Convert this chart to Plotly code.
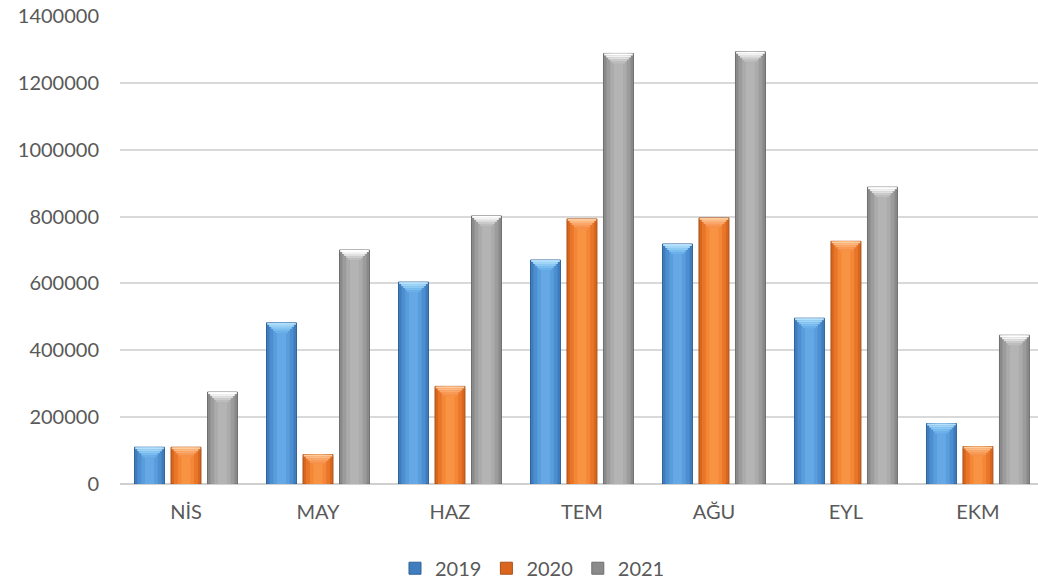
import plotly.graph_objects as go

# Monthly totals per year
months = ["NİS", "MAY", "HAZ", "TEM", "AĞU", "EYL", "EKM"]
years = ["2019", "2020", "2021"]
values_2019 = [110000, 482000, 604000, 670000, 718000, 496000, 181000]
values_2020 = [110000, 88000, 292000, 793000, 796000, 726000, 112000]
values_2021 = [275000, 700000, 802000, 1288000, 1293000, 888000, 445000]
y_ticks = [0, 200000, 400000, 600000, 800000, 1000000, 1200000, 1400000]

series = [values_2019, values_2020, values_2021]
# body shades: darker bevelled edges, lighter toward the middle
palettes = [
    ["#3F7DBF", "#4C8ED0", "#5A9DDD", "#66A8E6"],
    ["#D9661C", "#E8762A", "#F38736", "#F89343"],
    ["#8A8A8A", "#9C9C9C", "#ABABAB", "#B4B4B4"],
]
edge_colors = ["#2F6296", "#A9511B", "#6E6E6E"]
# bevelled top cap shades, from the top edge downwards
cap_palettes = [
    ["#B4E0FB", "#A0D5F8", "#8CC9F3", "#7ABDEE", "#6BB1E9"],
    ["#FDCB9C", "#FCB983", "#FAA86C", "#F89A58", "#F68F48"],
    ["#FFFFFF", "#F2F2F2", "#E0E0E0", "#CCCCCC", "#BDBDBD"],
]

bar_w = 0.227
pitch = 0.2765
layer_frac = [1.0, 0.8, 0.55, 0.3]
cap_frac = [1.0, 0.86, 0.72, 0.58, 0.45]
cap_step = 6000  # height of each cap band in data units

fig = go.Figure()
for i, (name, vals) in enumerate(zip(years, series)):
    center = (i - 1) * pitch
    for k, frac in enumerate(layer_frac):
        w = bar_w * frac
        fig.add_trace(go.Bar(
            x=months,
            y=vals,
            name=name,
            legendgroup=name,
            showlegend=(k == 0),
            width=w,
            offset=center - w / 2,
            marker=dict(
                color=palettes[i][k],
                line=dict(color=edge_colors[i] if k == 0 else palettes[i][k],
                          width=1 if k == 0 else 0),
            ),
            hoverinfo="skip" if k else None,
        ))
    for j, frac in enumerate(cap_frac):
        w = (bar_w - 0.01) * frac
        fig.add_trace(go.Bar(
            x=months,
            y=[cap_step] * len(vals),
            base=[v - (j + 1) * cap_step for v in vals],
            legendgroup=name,
            showlegend=False,
            width=w,
            offset=center - w / 2,
            marker=dict(color=cap_palettes[i][j], line=dict(width=0)),
            hoverinfo="skip",
        ))

font_family = "Lato, 'Open Sans', sans-serif"
fig.update_layout(
    width=1038,
    height=581,
    margin=dict(l=120, r=0, t=16, b=97),
    paper_bgcolor="white",
    plot_bgcolor="white",
    barmode="overlay",
    font=dict(family=font_family, size=20, color="#595959"),
    legend=dict(
        orientation="h",
        xref="container", yref="container",
        x=0.513, xanchor="center",
        y=0.022, yanchor="middle",
        font=dict(size=20, color="#595959"),
        itemwidth=30,
        tracegroupgap=0,
    ),
    showlegend=True,
)
fig.update_xaxes(
    type="category",
    range=[-0.5, 6.455],
    showgrid=False,
    showline=False,
    ticks="",
    ticklabelstandoff=14,
    tickfont=dict(size=20, color="#595959"),
)
fig.update_yaxes(
    range=[0, 1400000],
    tickvals=y_ticks,
    ticktext=[str(v) for v in y_ticks],
    showgrid=True,
    gridcolor="#D9D9D9",
    gridwidth=1.5,
    zeroline=True,
    zerolinecolor="#D0D0D0",
    zerolinewidth=2,
    showline=False,
    ticks="",
    ticklabelstandoff=20,
    tickfont=dict(size=20, color="#595959"),
)

fig.write_html("out.html")
